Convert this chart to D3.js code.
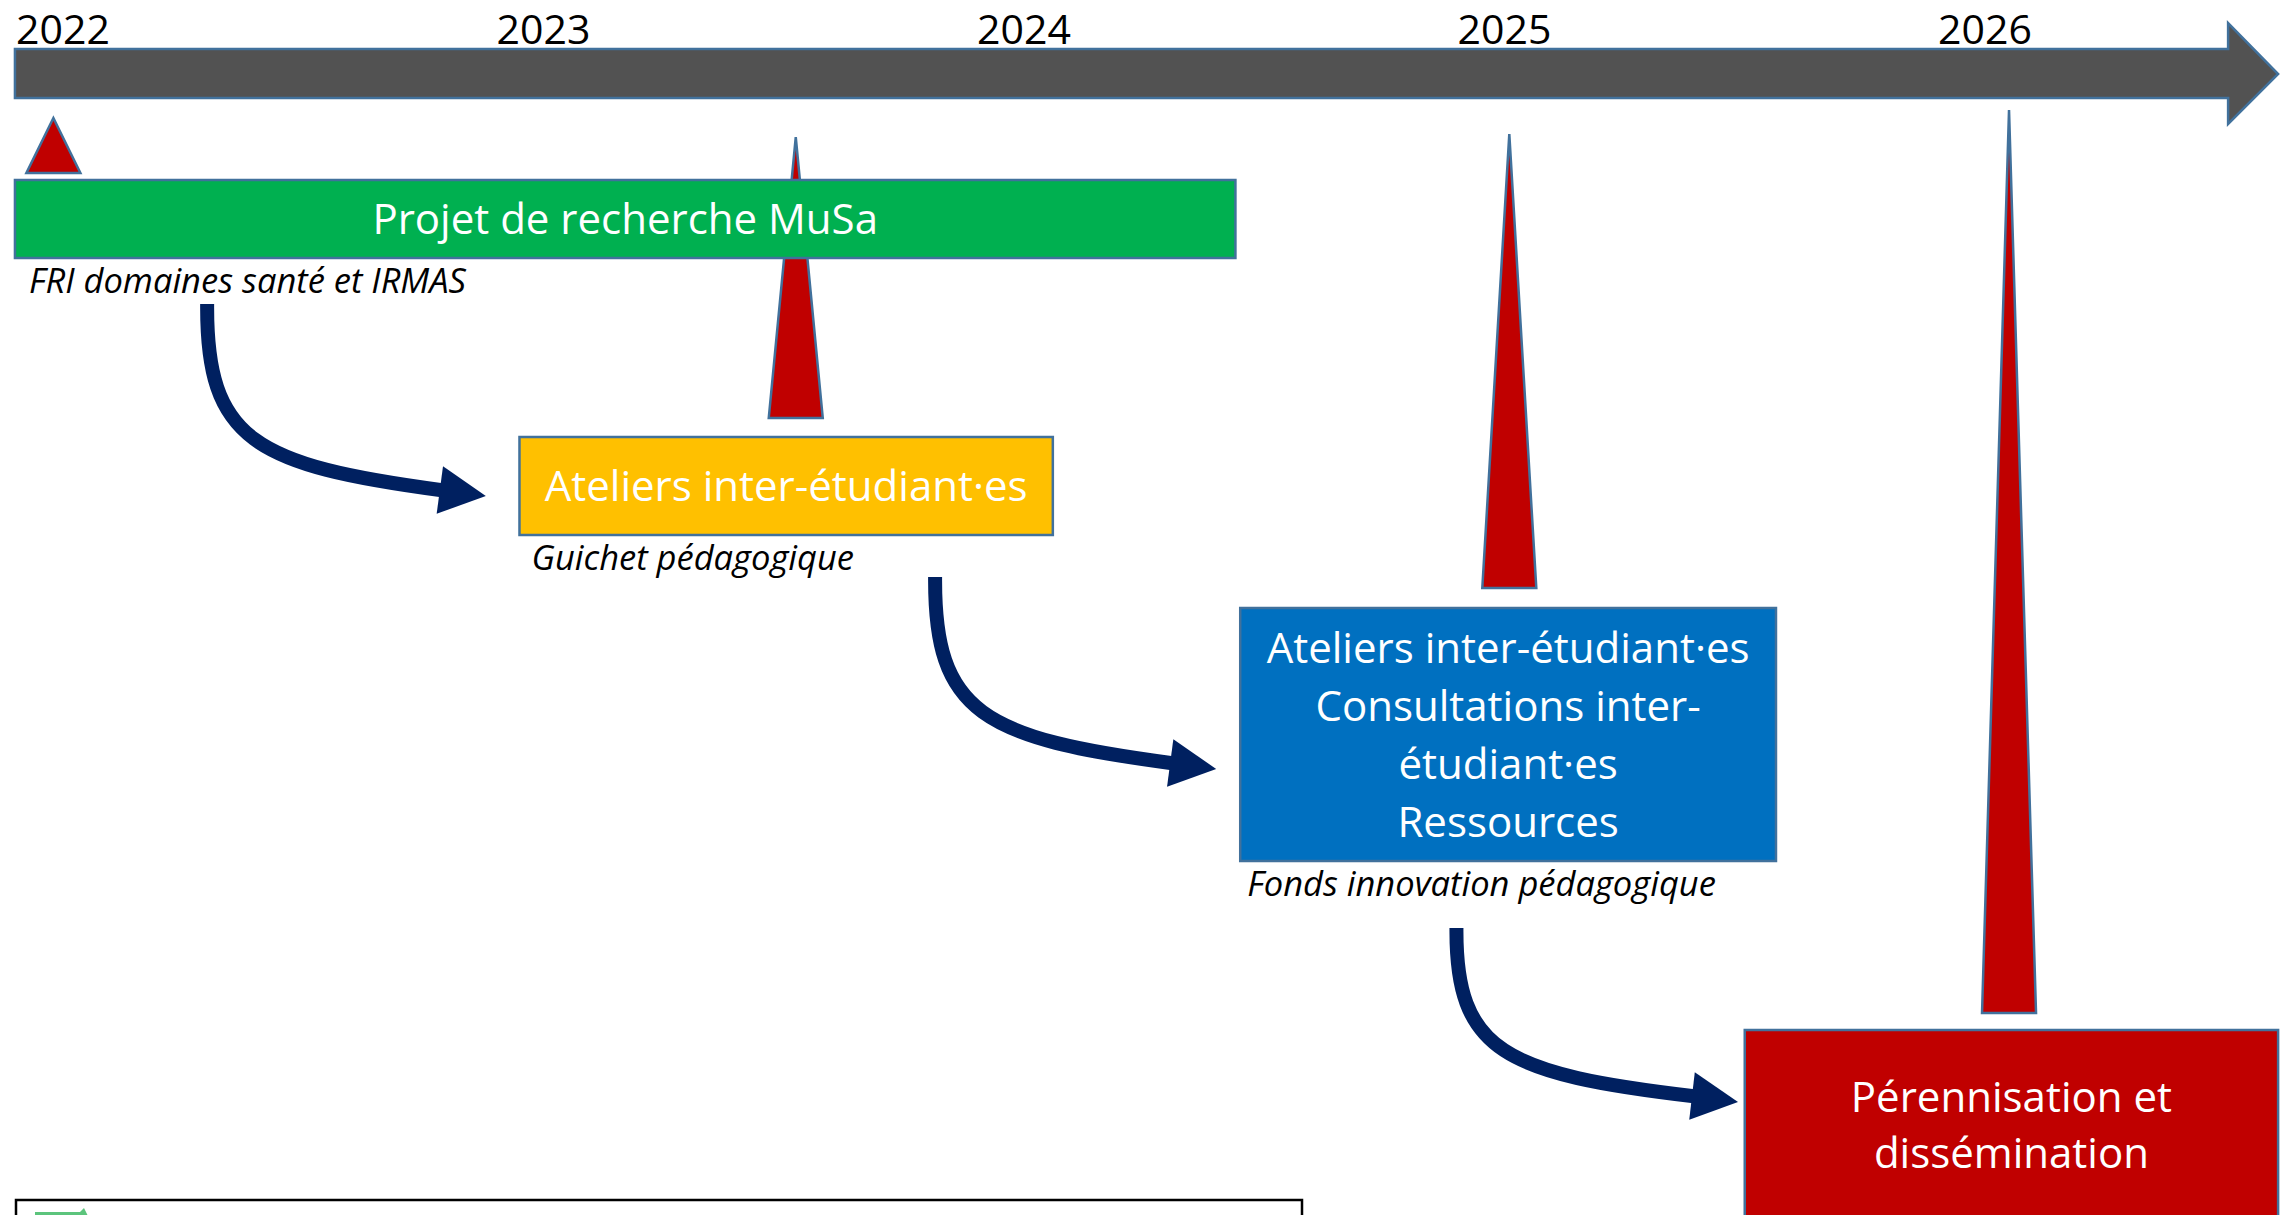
<!DOCTYPE html>
<html>
<head>
<meta charset="utf-8">
<script src="https://cdn.jsdelivr.net/npm/d3@7"></script>
<style>
  body { margin: 0; background: #fff; }
  text { font-family: "Open Sans", sans-serif; }
</style>
</head>
<body>
<div id="chart"></div>
<script>
// years written above the timeline
var years = [2022, 2023, 2024, 2025, 2026];
var timelineSpan = [2021.90, 2026.61];

// project phases (one box each), start / end in years
var phaseLabels = [
  ["Projet de recherche MuSa"],
  ["Ateliers inter-étudiant·es"],
  ["Ateliers inter-étudiant·es", "Consultations inter-", "étudiant·es", "Ressources"],
  ["Pérennisation et", "dissémination"]
];
var phaseStart = [2021.90, 2022.95, 2024.45, 2025.50];
var phaseEnd = [2024.44, 2024.06, 2025.565, 2026.61];
var phaseFunding = ["FRI domaines santé et IRMAS", "Guichet pédagogique", "Fonds innovation pédagogique", ""];
var phaseColors = ["#00B050", "#FFC000", "#0070C0", "#C00000"];

// milestones (red triangles), one per phase
var milestoneDates = [2021.98, 2023.525, 2025.01, 2026.05];

// arrows from one phase to the next, in years
var linkFrom = [2022.30, 2023.815, 2024.90];
var linkTo = [2022.88, 2024.40, 2025.486];

function chart() {
  var totalWidth = 2285,
      totalHeight = 1215,
      edge = "#41719C",
      navy = "#002060";

  // vertical layout of the rows
  var rowTop = [180, 437, 608, 1030],
      rowHeight = [78, 98, 253, 190],
      triTop = [118, 137, 134, 110],
      triGap = [7, 19, 20, 17],
      linkStartY = [304, 577, 928],
      linkEndY = [496, 769, 1102];

  var svg = d3.select("#chart").append("svg")
      .attr("width", totalWidth)
      .attr("height", totalHeight)
      .style("display", "block");

  var x = d3.scaleLinear()
      .domain([2022, 2026])
      .range([63, 1985]);

  // timeline arrow
  var x0 = x(timelineSpan[0]), x1 = x(timelineSpan[1]), hb = x1 - 50;
  svg.append("path")
      .attr("d", "M" + x0 + ",49 L" + hb + ",49 L" + hb + ",23 L" + x1 + ",74 L" + hb + ",124 L" + hb + ",98 L" + x0 + ",98 Z")
      .style("fill", "#525252")
      .style("stroke", edge)
      .style("stroke-width", 2.5);

  svg.append("g").selectAll("text")
    .data(years)
    .enter()
    .append("text")
      .attr("x", function(d) { return x(d); })
      .attr("y", 44)
      .attr("text-anchor", "middle")
      .style("font-size", "41px")
      .style("fill", "#000")
      .text(function(d) { return d; });

  // milestone triangles (drawn under the boxes)
  svg.append("g").selectAll("path")
    .data(milestoneDates)
    .enter()
    .append("path")
      .attr("d", function(d, i) {
        var cx = x(d), base = rowTop[i] - triGap[i];
        return "M" + cx + "," + triTop[i] + " L" + (cx + 27) + "," + base + " L" + (cx - 27) + "," + base + " Z";
      })
      .style("fill", "#C00000")
      .style("stroke", edge)
      .style("stroke-width", 2.5)
      .style("stroke-linejoin", "miter");

  // phase boxes
  var phases = svg.append("g").selectAll("g")
    .data(phaseLabels)
    .enter()
    .append("g");

  phases.append("rect")
      .attr("x", function(d, i) { return x(phaseStart[i]); })
      .attr("y", function(d, i) { return rowTop[i]; })
      .attr("width", function(d, i) { return x(phaseEnd[i]) - x(phaseStart[i]); })
      .attr("height", function(d, i) { return rowHeight[i]; })
      .style("fill", function(d, i) { return phaseColors[i]; })
      .style("stroke", edge)
      .style("stroke-width", 2.5);

  phases.each(function(lines, i) {
    var cx = (x(phaseStart[i]) + x(phaseEnd[i])) / 2,
        cy = rowTop[i] + rowHeight[i] / 2,
        lh = i == 3 ? 56 : 58,
        first = cy + 15 - (lines.length - 1) * lh / 2;
    d3.select(this).selectAll("text.lbl")
      .data(lines)
      .enter()
      .append("text")
        .attr("class", "lbl")
        .attr("x", cx)
        .attr("y", function(d, k) { return first + k * lh; })
        .attr("text-anchor", "middle")
        .style("font-size", "42px")
        .style("fill", "#fff")
        .text(function(d) { return d; });
  });

  // funding source under each box
  phases.append("text")
      .attr("x", function(d, i) { return x(phaseStart[i]) + [14, 12, 7, 0][i]; })
      .attr("y", function(d, i) { return rowTop[i] + rowHeight[i] + 35; })
      .style("font-size", "34.5px")
      .style("font-style", "italic")
      .style("fill", "#000")
      .text(function(d, i) { return phaseFunding[i]; });

  // curved arrows between phases
  var links = svg.append("g").selectAll("g")
    .data(linkFrom)
    .enter()
    .append("g");

  links.each(function(d, i) {
    var sx = x(d), sy = linkStartY[i],
        tx = x(linkTo[i]), ty = linkEndY[i],
        dx = tx - sx, dy = ty - sy,
        bx = tx - 46, by = ty - 6,
        c2x = sx + 0.17 * dx, c2y = sy + 0.84 * dy;
    var p = d3.path();
    p.moveTo(sx, sy);
    p.bezierCurveTo(sx - 1, sy + 0.71 * dy, c2x, c2y, bx + 4, by + 0.5);
    d3.select(this).append("path")
        .attr("d", p.toString())
        .style("fill", "none")
        .style("stroke", navy)
        .style("stroke-width", 14);
    var a = Math.atan2(by - c2y, bx - c2x),
        nx = -Math.sin(a) * 24, ny = Math.cos(a) * 24;
    d3.select(this).append("path")
        .attr("d", "M" + (bx + nx) + "," + (by + ny) + " L" + tx + "," + ty + " L" + (bx - nx) + "," + (by - ny) + " Z")
        .style("fill", navy);
  });

  // legend frame at the bottom (mostly cut off)
  var legend = svg.append("g");
  legend.append("rect")
      .attr("x", 16)
      .attr("y", 1200)
      .attr("width", 1286)
      .attr("height", 60)
      .style("fill", "#fff")
      .style("stroke", "#000")
      .style("stroke-width", 2.5);
  legend.append("path")
      .attr("d", "M35,1212 L80,1212 L84,1208 L88,1216 L88,1230 L35,1230 Z")
      .style("fill", "#5CC47C");
}

chart();
</script>
</body>
</html>
